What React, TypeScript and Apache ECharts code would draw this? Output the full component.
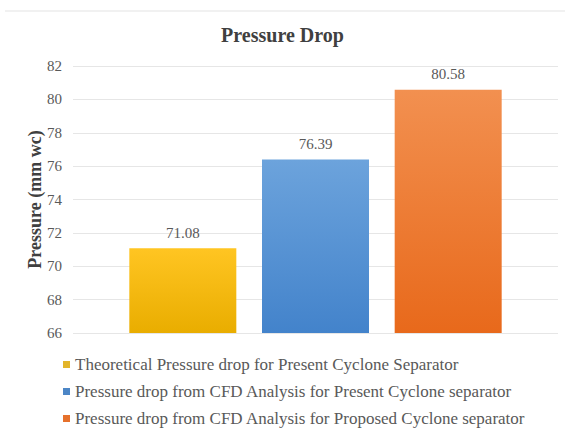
import React, { useEffect, useRef } from "react";
import * as echarts from "echarts";

const seriesNames = [
  "Theoretical Pressure drop for Present Cyclone Separator",
  "Pressure drop from CFD Analysis for Present Cyclone separator",
  "Pressure drop from CFD Analysis for Proposed Cyclone separator",
];
const seriesValues = [71.08, 76.39, 80.58];
const categories = ["Pressure Drop"];
const colorsTop = ["#FFC522", "#6CA3DC", "#F29050"];
const colorsBottom = ["#E9AD00", "#4383CB", "#E8691B"];
const legendColors = ["#E3B52A", "#4C86C6", "#E6712C"];

const FONT = "Liberation Serif";

export default function App() {
  const ref = useRef<HTMLDivElement>(null);
  useEffect(() => {
    if (!ref.current) return;
    document.body.style.margin = "0";
    const chart = echarts.init(ref.current, undefined, { renderer: "svg" });
    chart.setOption({
      animation: false,
      backgroundColor: "#ffffff",
      textStyle: { fontFamily: FONT },
      title: {
        text: "Pressure Drop",
        left: "center",
        top: 20,
        textStyle: { fontFamily: FONT, fontSize: 20, fontWeight: "bold", color: "#404040" },
      },
      graphic: [
        {
          type: "line",
          shape: { x1: 5, y1: 11, x2: 565, y2: 11 },
          style: { stroke: "#e3e3e3", lineWidth: 1 },
        },
      ],
      legend: {
        orient: "vertical",
        left: 58,
        top: 351,
        itemGap: 10,
        itemWidth: 7,
        itemHeight: 7,
        icon: "rect",
        data: seriesNames.map((n, i) => ({ name: n, itemStyle: { color: legendColors[i] } })),
        textStyle: { fontFamily: FONT, fontSize: 17, color: "#595959" },
      },
      grid: { left: 73, right: 7, top: 66, bottom: 101, containLabel: false },
      xAxis: {
        type: "category",
        data: categories,
        axisLine: { show: false },
        axisTick: { show: false },
        axisLabel: { show: false },
      },
      yAxis: {
        type: "value",
        min: 66,
        max: 82,
        interval: 2,
        name: "Pressure (mm wc)",
        nameLocation: "middle",
        nameGap: 29,
        nameMoveOverlap: false,
        nameTextStyle: { fontFamily: FONT, fontSize: 18, fontWeight: "bold", color: "#404040" },
        axisLine: { show: false },
        axisTick: { show: false },
        axisLabel: { fontFamily: FONT, fontSize: 15, color: "#595959", margin: 11 },
        splitLine: { lineStyle: { color: "#e6e6e6", width: 1 } },
      },
      series: seriesNames.map((n, i) => ({
        type: "bar",
        name: n,
        data: [seriesValues[i]],
        barWidth: 107,
        barGap: "24%",
        itemStyle: {
          color: new echarts.graphic.LinearGradient(0, 0, 0, 1, [
            { offset: 0, color: colorsTop[i] },
            { offset: 1, color: colorsBottom[i] },
          ]),
        },
        label: {
          show: true,
          position: "top",
          distance: 8,
          formatter: (p: any) => Number(p.value).toFixed(2),
          fontFamily: FONT,
          fontSize: 15,
          color: "#595959",
        },
      })),
    });
    return () => chart.dispose();
  }, []);
  return <div ref={ref} style={{ width: 565, height: 434 }} />;
}
